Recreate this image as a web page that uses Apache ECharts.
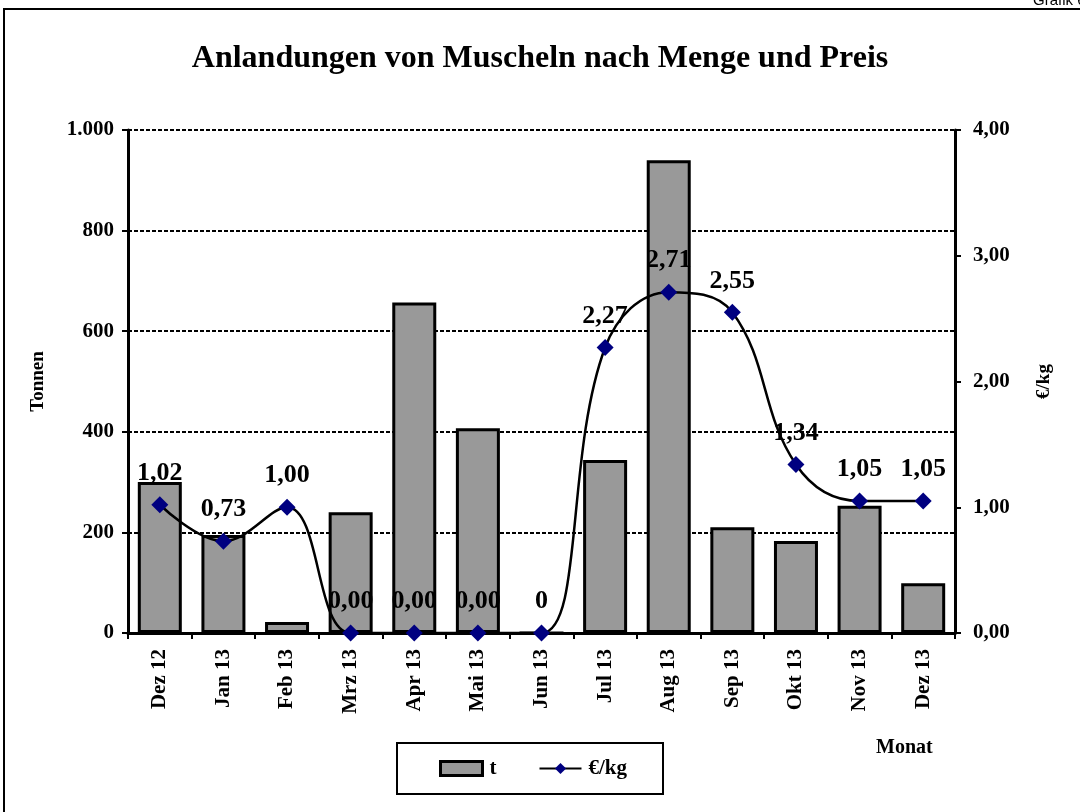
<!DOCTYPE html>
<html>
<head>
<meta charset="utf-8">
<script src="https://cdn.jsdelivr.net/npm/echarts@6/dist/echarts.min.js"></script>
<style>
html, body { margin: 0; padding: 0; background: #fff; }
#main { width: 1080px; height: 812px; }
</style>
</head>
<body>
<div id="main"></div>
<script>
var months = ['Dez 12', 'Jan 13', 'Feb 13', 'Mrz 13', 'Apr 13', 'Mai 13', 'Jun 13', 'Jul 13', 'Aug 13', 'Sep 13', 'Okt 13', 'Nov 13', 'Dez 13'];
var tonnen = [300, 195, 22, 240, 657, 407, 0, 344, 940, 210, 183, 253, 99];
var preis = [1.02, 0.73, 1.00, 0, 0, 0, 0, 2.27, 2.71, 2.55, 1.34, 1.05, 1.05];
var preisLabels = ['1,02', '0,73', '1,00', '0,00', '0,00', '0,00', '0', '2,27', '2,71', '2,55', '1,34', '1,05', '1,05'];

var font = '"Liberation Serif", "Times New Roman", serif';
var myChart = echarts.init(document.getElementById('main'));

myChart.setOption({
    animation: false,
    backgroundColor: '#fff',
    textStyle: { fontFamily: font },
    title: {
        text: 'Anlandungen von Muscheln nach Menge und Preis',
        left: 'center',
        top: 38,
        textStyle: { fontFamily: font, fontSize: 32, fontWeight: 'bold', color: '#000' }
    },
    graphic: [
        { type: 'rect', shape: { x: 4, y: 9, width: 1100, height: 820 }, style: { fill: 'none', stroke: '#000', lineWidth: 2 } },
        { type: 'text', left: 1033, top: -7, style: { text: 'Grafik 6', font: '15px "Liberation Sans", Arial, sans-serif', fill: '#000' } },
        { type: 'text', left: 876, top: 738, style: { text: 'Monat', font: 'bold 20px ' + font, fill: '#000' } }
    ],
    legend: {
        left: 397,
        top: 743,
        width: 262,
        height: 52,
        padding: [15, 36, 15, 42],
        itemGap: 42,
        itemWidth: 42,
        itemHeight: 14,
        borderColor: '#000',
        borderWidth: 2,
        textStyle: { fontFamily: font, fontSize: 21, fontWeight: 'bold', color: '#000', padding: [0, 0, 0, 2] },
        data: [
            { name: 't', icon: 'rect', itemStyle: { color: '#999', borderColor: '#000', borderWidth: 3 } },
            { name: '€/kg' }
        ]
    },
    grid: { left: 128, right: 125, top: 130, bottom: 179 },
    xAxis: {
        type: 'category',
        data: months,
        axisLine: { lineStyle: { color: '#000', width: 3 } },
        axisTick: { show: true, length: 6, lineStyle: { color: '#000', width: 2 } },
        axisLabel: { rotate: 90, color: '#000', fontFamily: font, fontSize: 21, fontWeight: 'bold', margin: 16 }
    },
    yAxis: [{
        type: 'value',
        name: 'Tonnen',
        nameLocation: 'middle',
        nameGap: 80,
        nameRotate: 90,
        nameTextStyle: { fontFamily: font, fontSize: 19, fontWeight: 'bold', color: '#000' },
        min: 0,
        max: 1000,
        interval: 200,
        axisLine: { show: true, lineStyle: { color: '#000', width: 3 } },
        axisTick: { show: true, length: 6, lineStyle: { color: '#000', width: 2 } },
        axisLabel: {
            color: '#000', fontFamily: font, fontSize: 21, fontWeight: 'bold', margin: 14,
            formatter: function (v) { return v >= 1000 ? '1.000' : String(v); }
        },
        splitLine: { show: true, lineStyle: { color: '#000', width: 2, type: [4, 2] } }
    }, {
        type: 'value',
        name: '€/kg',
        nameLocation: 'middle',
        nameGap: 80,
        nameRotate: 90,
        nameTextStyle: { fontFamily: font, fontSize: 19, fontWeight: 'bold', color: '#000' },
        min: 0,
        max: 4,
        interval: 1,
        axisLine: { show: true, lineStyle: { color: '#000', width: 3 } },
        axisTick: { show: true, length: 6, lineStyle: { color: '#000', width: 2 } },
        axisLabel: {
            color: '#000', fontFamily: font, fontSize: 21, fontWeight: 'bold', margin: 18,
            formatter: function (v) { return v.toFixed(2).replace('.', ','); }
        },
        splitLine: { show: false }
    }],
    series: [{
        name: 't',
        type: 'bar',
        data: tonnen,
        barWidth: 44,
        itemStyle: { color: '#999', borderColor: '#000', borderWidth: 3 }
    }, {
        name: '€/kg',
        type: 'line',
        yAxisIndex: 1,
        data: preis,
        smooth: 0.4,
        symbol: 'diamond',
        symbolSize: 17,
        lineStyle: { color: '#000', width: 2.5 },
        itemStyle: { color: '#000080' },
        label: {
            show: true,
            position: 'top',
            distance: 10,
            color: '#000',
            fontFamily: font,
            fontSize: 26,
            fontWeight: 'bold',
            formatter: function (p) { return preisLabels[p.dataIndex]; }
        },
        z: 5
    }]
});
</script>
</body>
</html>
